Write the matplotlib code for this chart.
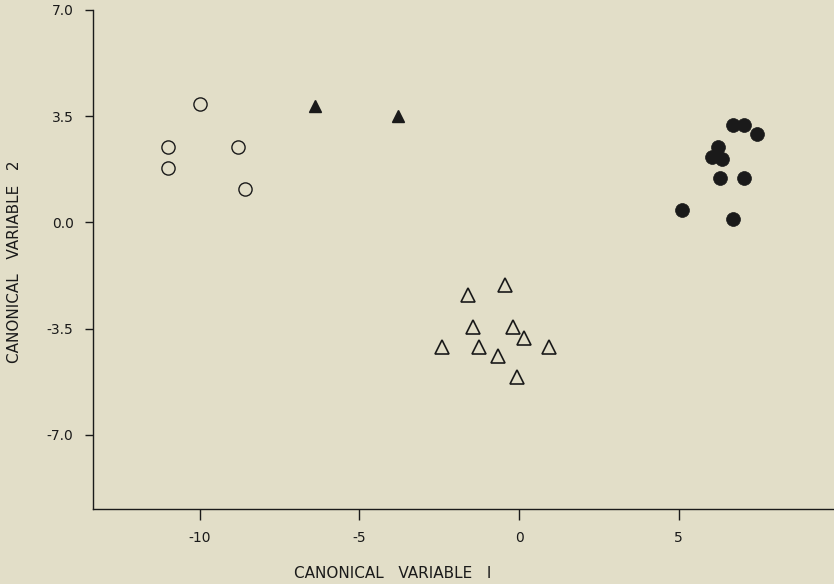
import matplotlib
matplotlib.use("Agg")
import matplotlib.pyplot as plt

# group 1: open circles
open_circle_x = [-10.0, -11.0, -11.0, -8.8, -8.6]
open_circle_y = [3.9, 2.5, 1.8, 2.5, 1.1]

# group 2: filled triangles
filled_tri_x = [-6.4, -3.8]
filled_tri_y = [3.85, 3.5]

# group 3: open triangles
open_tri_x = [-0.45, -1.6, -1.45, -0.2, 0.15, -2.4, -1.25, 0.95, -0.65, -0.05]
open_tri_y = [-2.05, -2.4, -3.45, -3.45, -3.8, -4.1, -4.1, -4.1, -4.4, -5.1]

# group 4: filled circles
filled_circle_x = [6.7, 7.05, 7.45, 6.25, 6.05, 6.35, 6.3, 7.05, 5.1, 6.7]
filled_circle_y = [3.2, 3.2, 2.9, 2.5, 2.15, 2.1, 1.45, 1.45, 0.4, 0.1]

xticks = [-10, -5, 0, 5]
yticks = [7.0, 3.5, 0.0, -3.5, -7.0]

bg = "#e2dec8"
ink = "#1a1a1a"

fig = plt.figure(figsize=(8.34, 5.84), dpi=100, facecolor=bg)
ax = fig.add_axes([0.1115, 0.1284, 0.8885, 0.8545])
ax.set_facecolor(bg)

ax.plot(open_circle_x, open_circle_y, "o", ms=9.5, mfc="none", mec=ink, mew=1.0)
ax.plot(filled_tri_x, filled_tri_y, "^", ms=9, mfc=ink, mec=ink, mew=1.0)
ax.plot(open_tri_x, open_tri_y, "^", ms=10, mfc="none", mec=ink, mew=1.2)
ax.plot(filled_circle_x, filled_circle_y, "o", ms=10, mfc=ink, mec=ink, mew=0.5)

ax.set_xlim(-13.35, 9.87)
ax.set_ylim(-9.44, 7.0)

ax.spines["top"].set_visible(False)
ax.spines["right"].set_visible(False)
for s in ("left", "bottom"):
    ax.spines[s].set_color(ink)
    ax.spines[s].set_linewidth(1.0)

ax.set_xticks(xticks)
ax.set_xticklabels(["-10", "-5", "0", "5"])
ax.set_yticks(yticks)
ax.set_yticklabels(["7.0", "3.5", "0.0", "-3.5", "-7.0"])
ax.tick_params(axis="x", direction="out", length=8, width=1.0, pad=8,
               colors=ink, labelsize=10)
ax.tick_params(axis="y", direction="out", length=6, width=1.0, pad=8,
               colors=ink, labelsize=10)

# axis titles placed in figure coords so they stay inside the canvas
fig.text(393 / 834, 1 - 573 / 584, "CANONICAL   VARIABLE   I",
         fontsize=11, color=ink, ha="center", va="center")
fig.text(15 / 834, 1 - 262 / 584, "CANONICAL   VARIABLE   2",
         fontsize=11, color=ink, ha="center", va="center", rotation=90)

fig.savefig("out.png", dpi=100, facecolor=bg)
